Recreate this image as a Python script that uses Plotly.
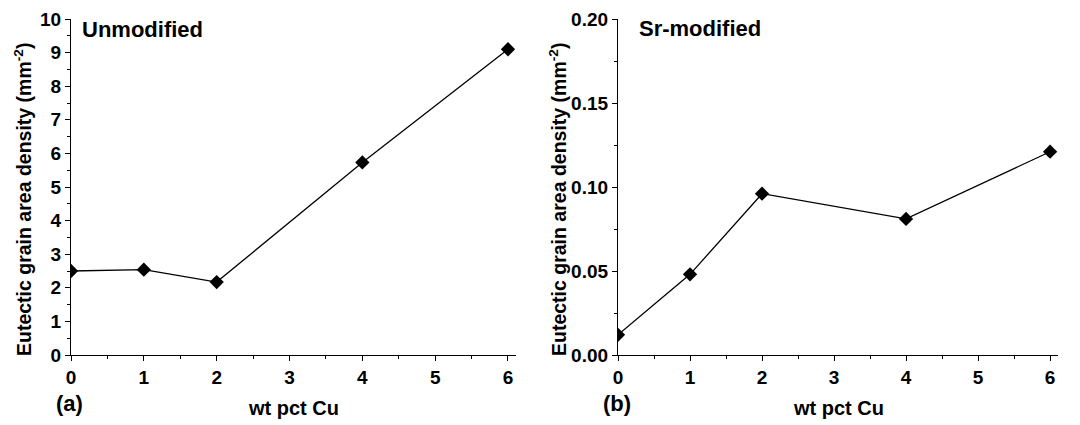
import plotly.graph_objects as go
from plotly.subplots import make_subplots

cu_wt = [0, 1, 2, 4, 6]
unmodified_density = [2.50, 2.54, 2.17, 5.73, 9.10]
sr_modified_density = [0.012, 0.048, 0.096, 0.081, 0.121]

x_ticks = [0, 1, 2, 3, 4, 5, 6]
y_ticks_a = list(range(0, 11))
y_ticks_b = [0.00, 0.05, 0.10, 0.15, 0.20]

W, H = 1080, 425
T, B = 19, 70

fig = make_subplots(rows=1, cols=2)

line_style = dict(color="black", width=1.3)
marker_style = dict(symbol="diamond", size=11, color="black")

fig.add_trace(go.Scatter(x=cu_wt, y=unmodified_density, mode="lines+markers",
                         line=line_style, marker=marker_style, showlegend=False), row=1, col=1)
fig.add_trace(go.Scatter(x=cu_wt, y=sr_modified_density, mode="lines+markers",
                         line=line_style, marker=marker_style, showlegend=False), row=1, col=2)

tick_font = dict(family="Liberation Sans, Arial", size=19, color="black", weight="bold")
title_font = dict(family="Liberation Sans, Arial", size=19.5, color="black", weight="bold")
xtitle_font = dict(family="Liberation Sans, Arial", size=20, color="black", weight="bold")
label_font = dict(family="Liberation Sans, Arial", size=22, color="black", weight="bold")

common_axis = dict(showline=True, linecolor="black", linewidth=1.3, ticks="outside",
                   ticklen=5, tickwidth=1.2, tickcolor="black", showgrid=False,
                   zeroline=False, tickfont=tick_font, mirror=False, automargin=False)

fig.update_xaxes(**common_axis, range=[0, 6.11], tickvals=x_ticks,
                 minor=dict(ticks="outside", ticklen=3, tickcolor="black", dtick=0.5, tick0=0))
fig.update_xaxes(domain=[71 / W, 516 / W], row=1, col=1)
fig.update_xaxes(domain=[618 / W, 1058 / W], row=1, col=2)

fig.update_yaxes(**common_axis)
fig.update_yaxes(range=[0, 10], tickvals=y_ticks_a,
                 minor=dict(ticks="outside", ticklen=3, tickcolor="black", dtick=0.5, tick0=0),
                 row=1, col=1)
fig.update_yaxes(range=[0, 0.2], tickvals=y_ticks_b, tickformat=".2f",
                 minor=dict(ticks="outside", ticklen=3, tickcolor="black", dtick=0.025, tick0=0),
                 row=1, col=2)

plot_h = H - T - B


def py(pix):
    return (H - B - pix) / plot_h


def px(pix):
    return pix / W


ytitle = "Eutectic grain area density (mm<sup>-2</sup>)"
for xc in (23, 558):
    fig.add_annotation(text=ytitle, x=px(xc), y=py(200), xref="paper", yref="paper",
                       textangle=-90, showarrow=False, xanchor="center", yanchor="middle",
                       font=title_font)
for xc in ((71 + 516) / 2, (618 + 1058) / 2):
    fig.add_annotation(text="wt pct Cu", x=px(xc), y=py(408), xref="paper", yref="paper",
                       showarrow=False, xanchor="center", yanchor="middle", font=xtitle_font)

fig.add_annotation(text="Unmodified", x=px(80), y=py(29), xref="paper", yref="paper",
                   showarrow=False, xanchor="left", yanchor="middle", font=label_font)
fig.add_annotation(text="Sr-modified", x=px(637), y=py(28), xref="paper", yref="paper",
                   showarrow=False, xanchor="left", yanchor="middle", font=label_font)

for txt, xl in [("(a)", 54), ("(b)", 601)]:
    fig.add_annotation(text=txt, x=px(xl), y=py(403), xref="paper", yref="paper",
                       showarrow=False, xanchor="left", yanchor="middle", font=label_font)

fig.update_layout(width=W, height=H, plot_bgcolor="white", paper_bgcolor="white",
                  margin=dict(l=0, r=0, t=T, b=B, autoexpand=False))

fig.write_html("out.html", config={"displayModeBar": False},
               post_script="document.body.style.margin='0px';")
